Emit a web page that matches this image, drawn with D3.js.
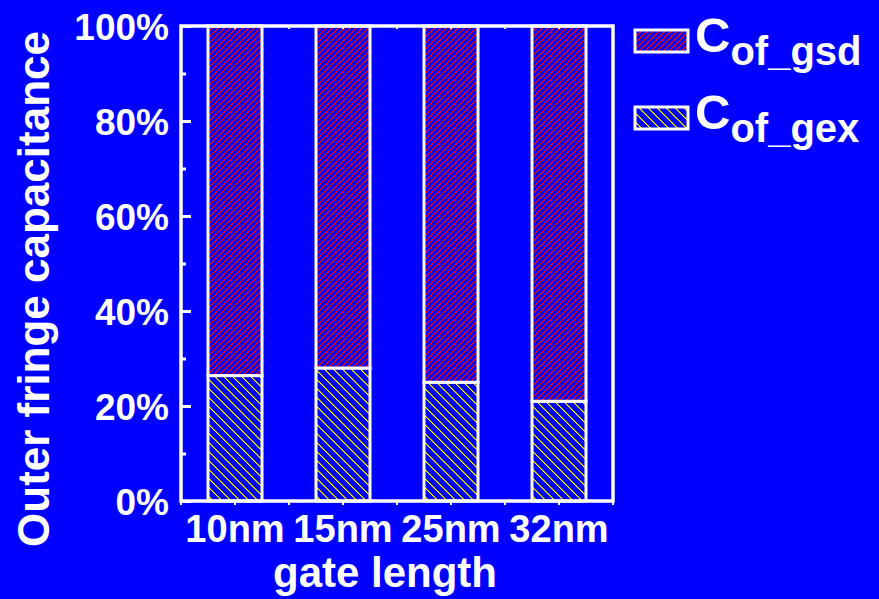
<!DOCTYPE html>
<html>
<head>
<meta charset="utf-8">
<script src="https://cdn.jsdelivr.net/npm/d3@7"></script>
<style>
  html, body { margin: 0; padding: 0; background: #0000ff; }
  svg { display: block; }
</style>
</head>
<body>
<svg id="chart" width="879" height="599"></svg>
<script>
const categories = ["10nm", "15nm", "25nm", "32nm"];
const gexValues = [26.4, 28.0, 25.0, 21.0];
const gsdValues = [73.6, 72.0, 75.0, 79.0];
const seriesKeys = ["gex", "gsd"];
const seriesLabels = { gsd: "of_gsd", gex: "of_gex" };
const yTicks = [0, 20, 40, 60, 80, 100];
const yMinorTicks = [10, 30, 50, 70, 90];

const table = categories.map((c, i) => ({ cat: c, gex: gexValues[i], gsd: gsdValues[i] }));

const W = 879, H = 599;
const pLeft = 181, pRight = 613, pTop = 26, pBottom = 501;
const FONT = "'Liberation Sans', Arial, Helvetica, sans-serif";
const BLUE = "#0000ff";

const svg = d3.select("#chart");
svg.append("rect").attr("width", W).attr("height", H).attr("fill", BLUE);

const defs = svg.append("defs");
// red "////" pixel hatch, period 6
const P1 = 6;
const p1 = defs.append("pattern").attr("id", "hatchGsd").attr("patternUnits", "userSpaceOnUse")
  .attr("width", P1).attr("height", P1);
p1.append("rect").attr("width", P1).attr("height", P1).attr("fill", BLUE);
d3.range(P1).forEach(r => {
  p1.append("rect").attr("x", (P1 - 1 - r) % P1).attr("y", r).attr("width", 1).attr("height", 1).attr("fill", "#ff0000");
  p1.append("rect").attr("x", (P1 - r) % P1).attr("y", r).attr("width", 1).attr("height", 1).attr("fill", "#b00050");
});
// yellow "\\\\" pixel hatch, period 9
const P2 = 9;
const p2 = defs.append("pattern").attr("id", "hatchGex").attr("patternUnits", "userSpaceOnUse")
  .attr("width", P2).attr("height", P2);
p2.append("rect").attr("width", P2).attr("height", P2).attr("fill", BLUE);
d3.range(P2).forEach(r => {
  p2.append("rect").attr("x", r).attr("y", r).attr("width", 1).attr("height", 1).attr("fill", "#ffff00");
  p2.append("rect").attr("x", (r + 1) % P2).attr("y", r).attr("width", 1).attr("height", 1).attr("fill", "#909040");
});

const fills = { gsd: "url(#hatchGsd)", gex: "url(#hatchGex)" };

const x = d3.scaleBand().domain(categories).range([pLeft, pRight])
  .paddingInner(0.5).paddingOuter(0.25);
const y = d3.scaleLinear().domain([0, 100]).range([pBottom, pTop]);

const stacked = d3.stack().keys(seriesKeys)(table);

// bars
const g = svg.append("g");
stacked.forEach(layer => {
  g.selectAll(null).data(layer).enter().append("rect")
    .attr("x", d => x(d.data.cat))
    .attr("y", d => y(d[1]))
    .attr("width", x.bandwidth())
    .attr("height", d => y(d[0]) - y(d[1]))
    .attr("fill", fills[layer.key])
    .attr("stroke", "#ffffff")
    .attr("stroke-width", 3);
});

// frame
svg.append("rect").attr("x", pLeft).attr("y", pTop)
  .attr("width", pRight - pLeft).attr("height", pBottom - pTop)
  .attr("fill", "none").attr("stroke", "#ffffff").attr("stroke-width", 3.5);

// y axis (ticks inward)
const yAxis = d3.axisRight(y).tickValues(yTicks).tickSize(10).tickFormat(d => d + "%");
const ya = svg.append("g").attr("transform", `translate(${pLeft},0)`).call(yAxis);
ya.select(".domain").remove();
ya.selectAll(".tick line").attr("stroke", "#fff").attr("stroke-width", 3);
ya.selectAll(".tick text").attr("x", -12).attr("text-anchor", "end")
  .attr("dy", "0.36em")
  .attr("fill", "#fff").attr("font-family", FONT).attr("font-weight", "bold").attr("font-size", 37);
const yMinor = d3.axisRight(y).tickValues(yMinorTicks).tickSize(5).tickFormat("");
const ym = svg.append("g").attr("transform", `translate(${pLeft},0)`).call(yMinor);
ym.select(".domain").remove();
ym.selectAll(".tick line").attr("stroke", "#fff").attr("stroke-width", 3);

// x axis
const xAxis = d3.axisBottom(x).tickSize(0).tickPadding(0);
const xa = svg.append("g").attr("transform", `translate(0,${pBottom})`).call(xAxis);
xa.select(".domain").remove();
xa.selectAll(".tick text").attr("y", 41).attr("dy", 0)
  .attr("fill", "#fff").attr("font-family", FONT).attr("font-weight", "bold").attr("font-size", 38);
// small x ticks at band centres and boundaries
const xTickPos = [];
categories.forEach(c => { xTickPos.push(x(c) - x.step() * 0.25); xTickPos.push(x(c) + x.bandwidth() / 2); });
xTickPos.push(pRight);
svg.append("g").selectAll("line").data(xTickPos).enter().append("line")
  .attr("x1", d => d).attr("x2", d => d).attr("y1", pBottom).attr("y2", pBottom + 4)
  .attr("stroke", "#fff").attr("stroke-width", 2);
svg.append("g").selectAll("line").data(xTickPos).enter().append("line")
  .attr("x1", d => d).attr("x2", d => d).attr("y1", pTop).attr("y2", pTop + 3)
  .attr("stroke", "#fff").attr("stroke-width", 2);

// axis titles
svg.append("text").attr("x", 385).attr("y", 587).attr("text-anchor", "middle")
  .attr("fill", "#fff").attr("font-family", FONT).attr("font-weight", "bold").attr("font-size", 42)
  .text("gate length");
svg.append("text").attr("transform", "translate(49,289) rotate(-90)").attr("text-anchor", "middle")
  .attr("fill", "#fff").attr("font-family", FONT).attr("font-weight", "bold").attr("font-size", 44)
  .text("Outer fringe capacitance");

// legend
const legendKeys = ["gsd", "gex"];
const lg = svg.append("g");
legendKeys.forEach((k, i) => {
  const ly = 30 + i * 77;
  lg.append("rect").attr("x", 635).attr("y", ly).attr("width", 53).attr("height", 22)
    .attr("fill", fills[k]).attr("stroke", "#fff").attr("stroke-width", 3);
  const t = lg.append("text").attr("x", 695).attr("y", ly + 22)
    .attr("fill", "#fff").attr("font-family", FONT).attr("font-weight", "bold");
  t.append("tspan").attr("font-size", 49).text("C");
  t.append("tspan").attr("font-size", 40).attr("dy", 13).text(seriesLabels[k]);
});
</script>
</body>
</html>
